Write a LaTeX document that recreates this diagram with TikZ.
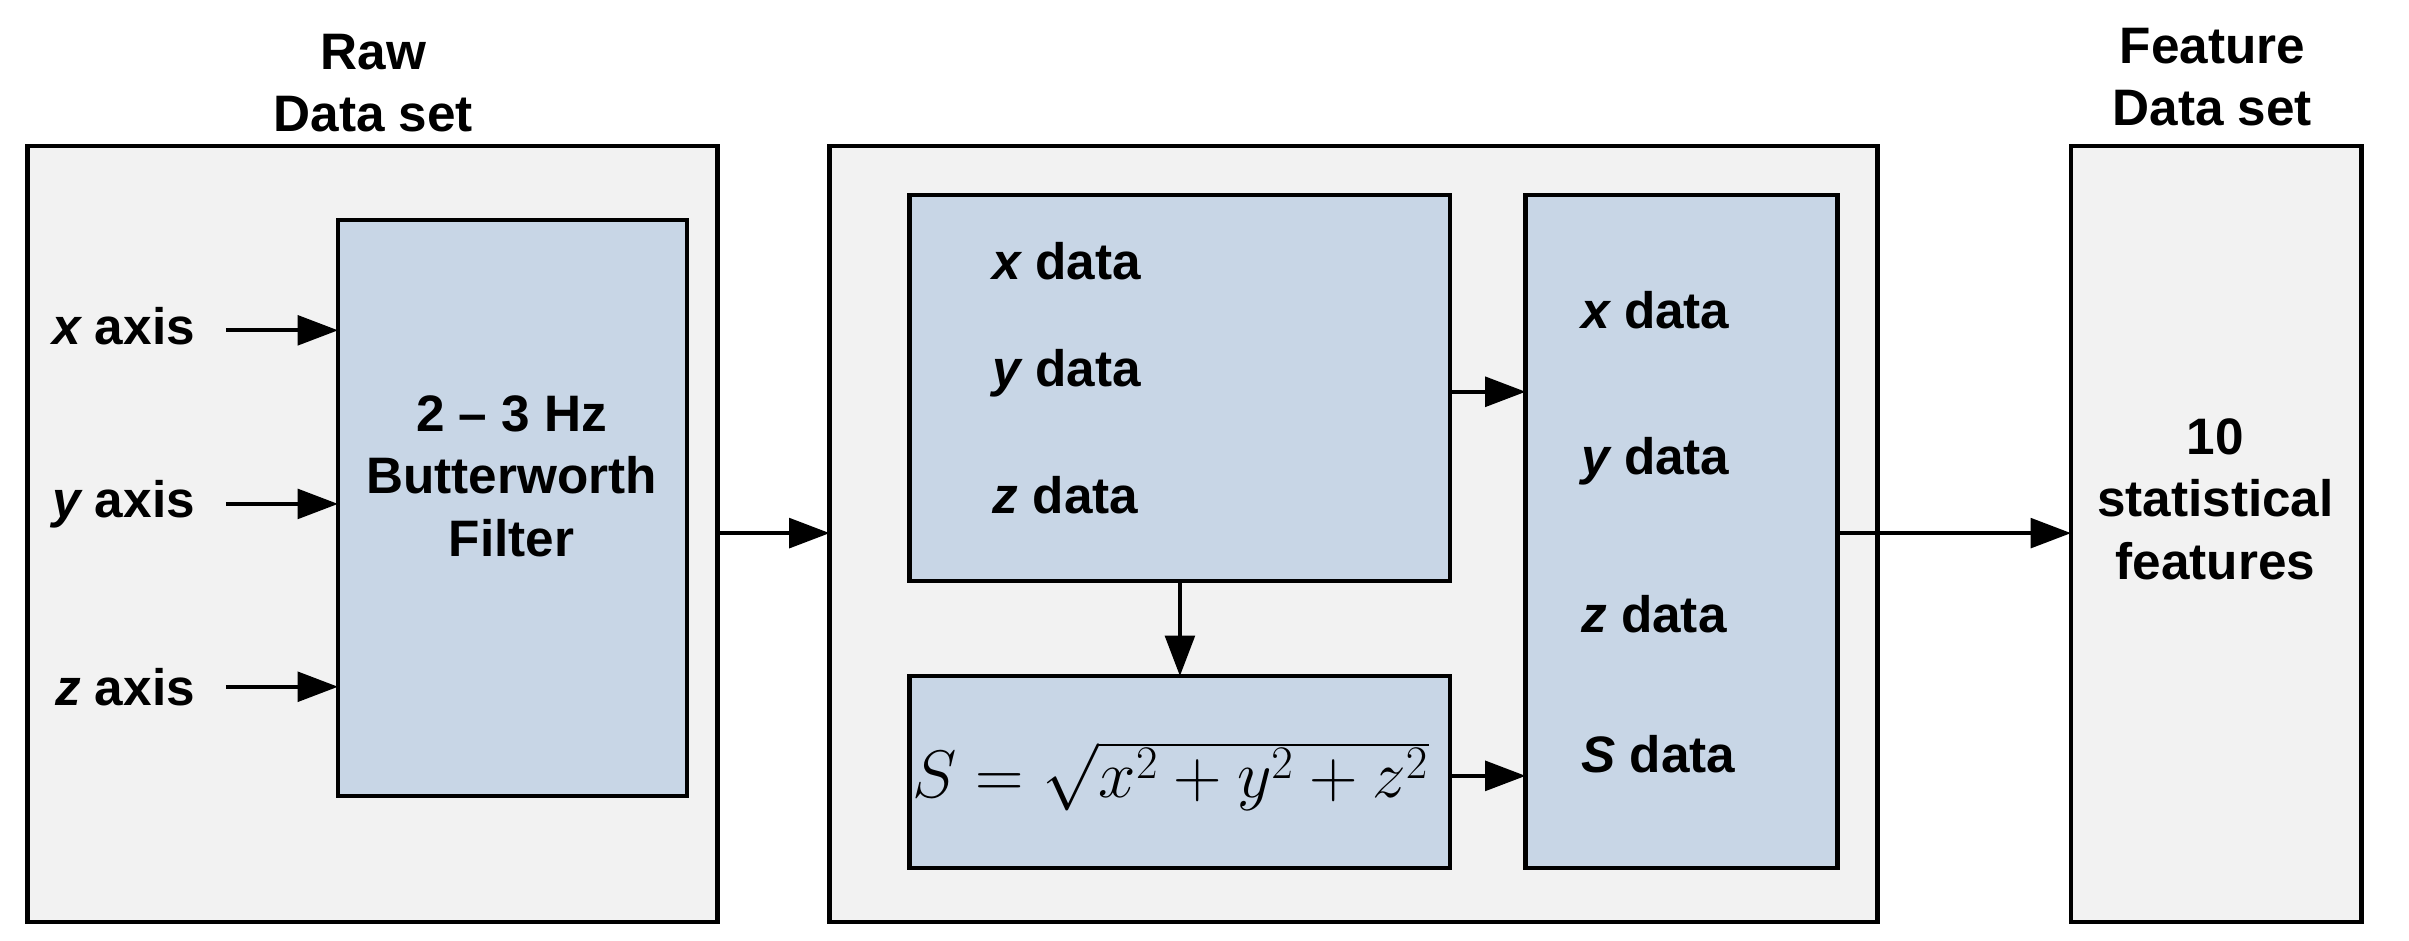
\documentclass[tikz,border=0pt]{standalone}
\usepackage{fontspec}
\setmainfont{Liberation Sans}
\usetikzlibrary{arrows.meta}
\begin{document}
\begin{tikzpicture}[x=0.02cm,y=-0.02cm,
  outer/.style={draw=black,line width=1.6pt,fill=gray!10},
  inner/.style={draw=black,line width=1.6pt,fill={rgb,255:red,200;green,214;blue,230}},
  lbl/.style={font=\fontsize{19}{23}\selectfont\bfseries,align=center},
  arr/.style={-{Triangle[length=15pt,width=11pt]},line width=1.4pt}]
\useasboundingbox (0,0) rectangle (1568,612);
\path[outer] (18,95) rectangle (467,600);
\path[outer] (540,95) rectangle (1222,600);
\path[outer] (1348,95) rectangle (1537,600);
\path[inner] (220,143) rectangle (447,518);
\path[inner] (592,127) rectangle (944,378);
\path[inner] (592,440) rectangle (944,565);
\path[inner] (993,127) rectangle (1196,565);
\node[lbl] (t1) at (243,54) {Raw\\Data set};
\node[lbl] (t2) at (1440,50) {Feature\\Data set};
\node[lbl] (filt) at (333,310) {2 -- 3 Hz\\Butterworth\\Filter};
\node[lbl,anchor=east] (xa) at (133,212) {\itshape x\upshape\ axis};
\node[lbl,anchor=east] (ya) at (133,328) {\itshape y\upshape\ axis};
\node[lbl,anchor=east] (za) at (133,447) {\itshape z\upshape\ axis};
\coordinate (fx) at (220,215); \coordinate (fy) at (220,328); \coordinate (fz) at (220,447);
\draw[arr] (xa.east)+(14,3) -- (fx);
\draw[arr] (ya.east)+(14,0) -- (fy);
\draw[arr] (za.east)+(14,0) -- (fz);
\coordinate (lo) at (467,347); \coordinate (mi) at (540,347);
\draw[arr] (lo) -- (mi);
\node[lbl,anchor=west] (d1) at (640,170) {\itshape x\upshape\ data};
\node[lbl,anchor=west] (d2) at (640,243) {\itshape y\upshape\ data};
\node[lbl,anchor=west] (d3) at (640,322) {\itshape z\upshape\ data};
\node[lbl,anchor=west] (e1) at (1023,202) {\itshape x\upshape\ data};
\node[lbl,anchor=west] (e2) at (1023,300) {\itshape y\upshape\ data};
\node[lbl,anchor=west] (e3) at (1023,400) {\itshape z\upshape\ data};
\node[lbl,anchor=west] (e4) at (1023,491) {\itshape S\upshape\ data};
\node (form) at (762,505) {\fontsize{27}{30}\selectfont$S=\sqrt{x^2+y^2+z^2}$};
\coordinate (a1) at (944,255); \coordinate (b1) at (993,255);
\draw[arr] (a1) -- (b1);
\coordinate (a2) at (944,505); \coordinate (b2) at (993,505);
\draw[arr] (a2) -- (b2);
\coordinate (a3) at (768,378); \coordinate (b3) at (768,440);
\draw[arr] (a3) -- (b3);
\coordinate (a4) at (1196,347); \coordinate (b4) at (1348,347);
\draw[arr] (a4) -- (b4);
\node[lbl] (feat) at (1442,325) {10\\statistical\\features};
\end{tikzpicture}
\end{document}
